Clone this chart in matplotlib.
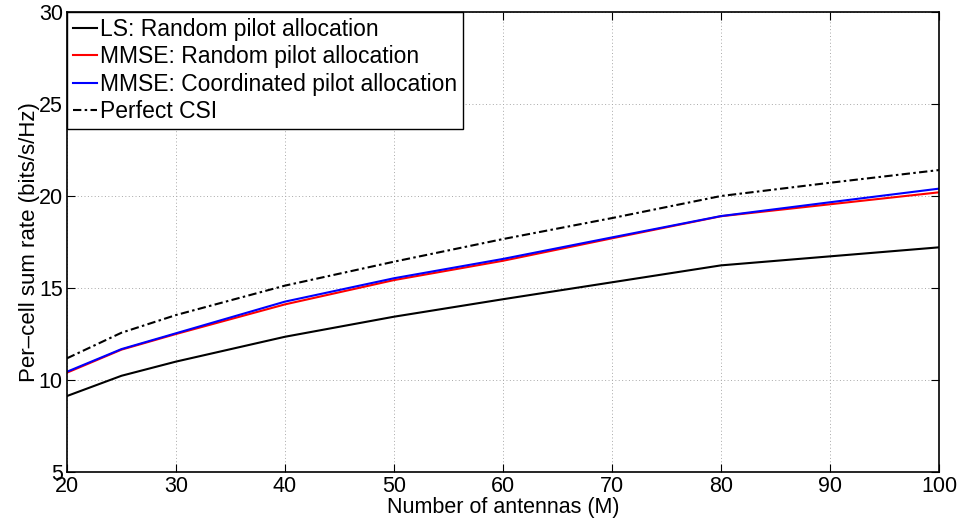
import matplotlib
matplotlib.use('Agg')
import matplotlib.pyplot as plt

plt.rcParams['font.family'] = ['Liberation Sans', 'DejaVu Sans']

# number of antennas M
antennas = [20, 25, 30, 40, 50, 60, 70, 80, 90, 100]

# per-cell sum rate (bits/s/Hz)
ls_random = [9.13, 10.23, 11.0, 12.35, 13.44, 14.39, 15.31, 16.23, 16.72, 17.21]
mmse_random = [10.4, 11.65, 12.5, 14.11, 15.43, 16.48, 17.7, 18.9, 19.55, 20.2]
mmse_coord = [10.45, 11.68, 12.54, 14.26, 15.53, 16.58, 17.75, 18.91, 19.66, 20.4]
perfect_csi = [11.18, 12.57, 13.53, 15.13, 16.43, 17.66, 18.8, 20.0, 20.72, 21.41]

labels = ['LS: Random pilot allocation',
          'MMSE: Random pilot allocation',
          'MMSE: Coordinated pilot allocation',
          'Perfect CSI']

fig = plt.figure(figsize=(9.63, 5.27), dpi=100)
ax = fig.add_axes([67/963, 1 - 472/527, (939 - 67)/963, (472 - 12)/527])

lw = 1.5
ax.plot(antennas, ls_random, color='black', lw=lw, label=labels[0])
ax.plot(antennas, mmse_random, color='red', lw=lw, label=labels[1])
ax.plot(antennas, mmse_coord, color='blue', lw=lw, label=labels[2])
ax.plot(antennas, perfect_csi, color='black', lw=lw, dashes=(4, 1.6, 1.2, 1.6),
        label=labels[3])

ax.set_xlim(20, 100)
ax.set_ylim(5, 30)
ax.set_xticks(range(20, 101, 10))
ax.set_yticks(range(5, 31, 5))
ax.grid(True, color='#a8a8a8', linestyle=(0, (1, 2.5)), lw=0.7)
ax.tick_params(direction='in', length=6, width=0.8, top=True, right=True,
               labelsize=15.5)
ax.tick_params(axis='x', pad=3)
ax.tick_params(axis='y', pad=3)
for s in ax.spines.values():
    s.set_linewidth(1.2)

ax.set_xlabel('Number of antennas (M)', fontsize=15.5, labelpad=0)
ax.set_ylabel('Per\u2013cell sum rate (bits/s/Hz)', fontsize=16, labelpad=-1)

leg = ax.legend(loc='upper left', bbox_to_anchor=(0, 1), borderaxespad=0,
                fontsize=16.5, handlelength=1.05, handletextpad=0.15,
                labelspacing=0.2, borderpad=0.25, fancybox=False,
                framealpha=1, edgecolor='black')
leg.get_frame().set_linewidth(1.0)

fig.savefig('out.png', dpi=100)
